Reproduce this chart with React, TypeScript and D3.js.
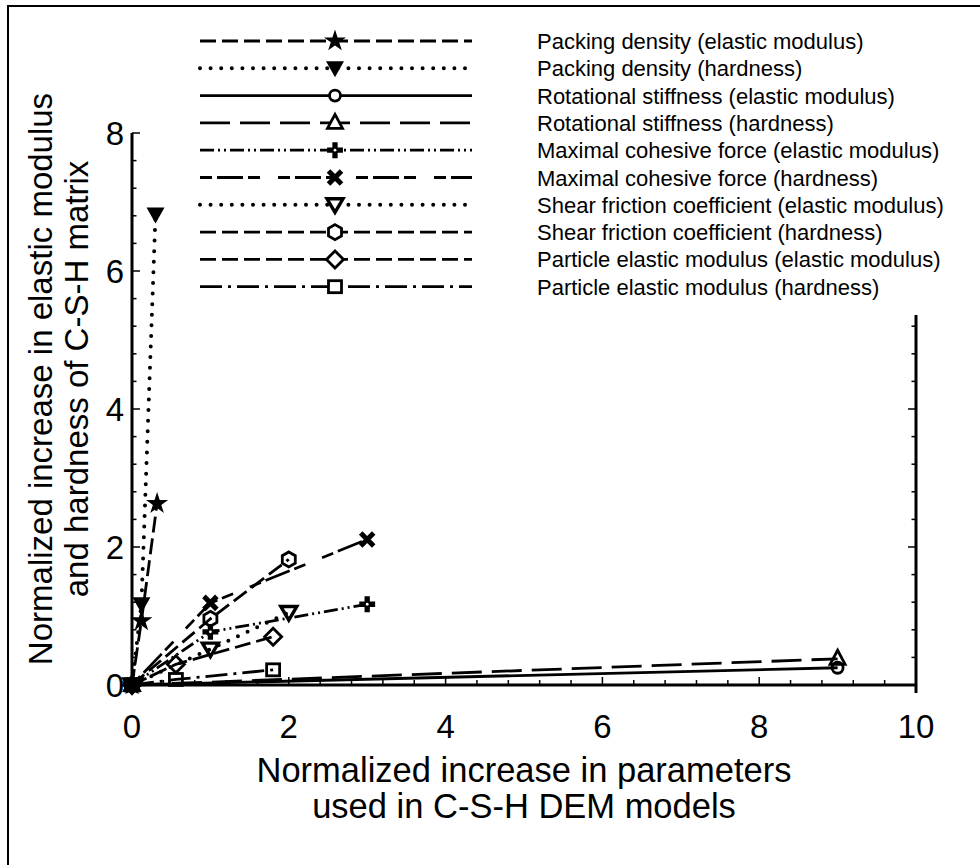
import React from "react";
import * as d3 from "d3";

// Normalized increase in DEM parameter (x) vs. normalized increase in property (y)
const packingEx = [0, 0.12, 0.32];
const packingEy = [0, 0.93, 2.63];
const packingHx = [0, 0.12, 0.3];
const packingHy = [0, 1.17, 6.82];
const rotEx = [0, 9];
const rotEy = [0, 0.25];
const rotHx = [0, 9];
const rotHy = [0, 0.38];
const cohEx = [0, 1, 3];
const cohEy = [0, 0.77, 1.17];
const cohHx = [0, 1, 3];
const cohHy = [0, 1.19, 2.11];
const fricEx = [0, 1, 2];
const fricEy = [0, 0.52, 1.05];
const fricHx = [0, 1, 2];
const fricHy = [0, 0.96, 1.82];
const partEx = [0, 0.56, 1.8];
const partEy = [0, 0.3, 0.7];
const partHx = [0, 0.56, 1.8];
const partHy = [0, 0.08, 0.22];

const seriesNames = [
  "Packing density (elastic modulus)",
  "Packing density (hardness)",
  "Rotational stiffness (elastic modulus)",
  "Rotational stiffness (hardness)",
  "Maximal cohesive force (elastic modulus)",
  "Maximal cohesive force (hardness)",
  "Shear friction coefficient (elastic modulus)",
  "Shear friction coefficient (hardness)",
  "Particle elastic modulus (elastic modulus)",
  "Particle elastic modulus (hardness)",
];

const xTickLabels = [0, 2, 4, 6, 8, 10];
const yTickLabels = [0, 2, 4, 6, 8];

type Marker =
  | "star" | "triDownFilled" | "circle" | "triUp" | "plus"
  | "xcross" | "triDownOpen" | "hexagon" | "diamond" | "square";

const styles: { dash: string; dotted?: boolean; marker: Marker }[] = [
  { dash: "16 6", marker: "star" },
  { dash: "0 10.6", dotted: true, marker: "triDownFilled" },
  { dash: "", marker: "circle" },
  { dash: "30 10", marker: "triUp" },
  { dash: "14 4 2 4 2 4", marker: "plus" },
  { dash: "12 5 26 5 12 18", marker: "xcross" },
  { dash: "0 10.6", dotted: true, marker: "triDownOpen" },
  { dash: "16 6", marker: "hexagon" },
  { dash: "16 6", marker: "diamond" },
  { dash: "22 6 3 6", marker: "square" },
];

const seriesX = [packingEx, packingHx, rotEx, rotHx, cohEx, cohHx, fricEx, fricHx, partEx, partHx];
const seriesY = [packingEy, packingHy, rotEy, rotHy, cohEy, cohHy, fricEy, fricHy, partEy, partHy];

const FONT = "'Liberation Sans', Arial, Helvetica, sans-serif";

function MarkerShape({ type, x, y, fill }: { type: Marker; x: number; y: number; fill: string }) {
  const t = `translate(${x},${y})`;
  const sw = 2.8;
  switch (type) {
    case "star":
      return <path transform={t} d={d3.symbol(d3.symbolStar, 150)()!} fill="#000" />;
    case "triDownFilled":
      return <path transform={t} d="M0,9 L-9,-7 L9,-7 Z" fill="#000" />;
    case "circle":
      return <circle cx={x} cy={y} r={5.5} fill={fill} stroke="#000" strokeWidth={sw} />;
    case "triUp":
      return <path transform={t} d="M0,-8.5 L7.5,5.5 L-7.5,5.5 Z" fill={fill} stroke="#000" strokeWidth={sw} />;
    case "plus":
      return (
        <g transform={t}>
          <path d={d3.symbol(d3.symbolCross, 140)()!} fill="#000" />
          <circle r={1.4} fill="#fff" />
        </g>
      );
    case "xcross":
      return <path transform={t} d="M-6.5,-6.5 L6.5,6.5 M-6.5,6.5 L6.5,-6.5" stroke="#000" strokeWidth={5} />;
    case "triDownOpen":
      return <path transform={t} d="M0,7.5 L-8,-6 L8,-6 Z" fill={fill} stroke="#000" strokeWidth={3.4} />;
    case "hexagon": {
      const pts = d3.range(6).map((i) => {
        const a = (Math.PI / 3) * i - Math.PI / 2;
        return [7.5 * Math.cos(a), 7.5 * Math.sin(a)];
      });
      return <path transform={t} d={"M" + pts.map((p) => p.join(",")).join("L") + "Z"} fill={fill} stroke="#000" strokeWidth={sw} />;
    }
    case "diamond":
      return <path transform={t} d="M0,-8.5 L8.5,0 L0,8.5 L-8.5,0 Z" fill={fill} stroke="#000" strokeWidth={sw} />;
    case "square":
      return <rect x={x - 6.5} y={y - 6} width={13} height={12} fill={fill} stroke="#000" strokeWidth={sw} />;
  }
  return null;
}

export default function App() {
  const width = 980;
  const height = 865;
  const x = d3.scaleLinear().domain([0, 10]).range([132, 916]);
  const y = d3.scaleLinear().domain([0, 8]).range([685, 133]);

  const minorX = d3.range(0, 10.001, 0.4);
  const minorY = d3.range(0, 8.001, 0.4);
  const isMajor = (v: number) => Math.abs(v / 2 - Math.round(v / 2)) < 1e-6;

  const line = d3
    .line<[number, number]>()
    .x((d) => x(d[0]))
    .y((d) => y(d[1]));

  // legend layout
  const legLeft = 200;
  const legRight = 472;
  const legMarkX = 335;
  const legTextX = 537;
  const legTop = 41;
  const legStep = 27.3;

  return (
    <svg
      width={width}
      height={height}
      style={{ position: "absolute", left: 0, top: 0, background: "#fff" }}
      fontFamily={FONT}
    >
      <rect x={0} y={0} width={width} height={height} fill="#fff" />
      {/* outer frame */}
      <path d={`M8,${height} L8,6 L${width},6`} fill="none" stroke="#000" strokeWidth={2} />

      {/* series lines */}
      {seriesX.map((xs, i) => {
        const s = styles[i];
        const pts = xs.map((v, j) => [v, seriesY[i][j]] as [number, number]);
        return (
          <path
            key={"l" + i}
            d={line(pts)!}
            fill="none"
            stroke="#000"
            strokeWidth={s.dotted ? 4 : 2.8}
            strokeDasharray={s.dash || undefined}
            strokeLinecap={s.dotted ? "round" : "butt"}
          />
        );
      })}
      {/* series markers */}
      {seriesX.map((xs, i) => (
        <g key={"m" + i}>
          {xs.map((v, j) => (
            <MarkerShape key={j} type={styles[i].marker} x={x(v)} y={y(seriesY[i][j])} fill="none" />
          ))}
        </g>
      ))}

      {/* axes */}
      <g stroke="#000" strokeWidth={3} fill="none">
        <line x1={x(0)} x2={x(10)} y1={y(0)} y2={y(0)} />
        <line x1={x(0)} x2={x(0)} y1={y(0) + 1.5} y2={y(8)} />
        <line x1={x(10)} x2={x(10)} y1={y(0) + 8} y2={y(8)} />
      </g>
      <g stroke="#000" strokeWidth={1.5}>
        {minorX.map((v) => (
          <line key={"xt" + v} x1={x(v)} x2={x(v)} y1={y(0)} y2={y(0) - (isMajor(v) ? 8 : 5)} />
        ))}
        {minorY.map((v) => (
          <line key={"yt" + v} x1={x(0)} x2={x(0) + (isMajor(v) ? 8 : 4.5)} y1={y(v)} y2={y(v)} />
        ))}
        {minorY.map((v) => (
          <line key={"rt" + v} x1={x(10)} x2={x(10) - (isMajor(v) ? 8 : 4.5)} y1={y(v)} y2={y(v)} />
        ))}
      </g>

      {/* tick labels */}
      <g fontSize={33} fill="#000">
        {xTickLabels.map((v) => (
          <text key={"xl" + v} x={x(v)} y={738} textAnchor="middle">
            {v}
          </text>
        ))}
        {yTickLabels.map((v) => (
          <text key={"yl" + v} x={124} y={y(v) + 12} textAnchor="end">
            {v}
          </text>
        ))}
      </g>

      {/* axis titles */}
      <g fontSize={33} fill="#000" textAnchor="middle">
        <text x={524} y={782} fontSize={34.5}>Normalized increase in parameters</text>
        <text x={524} y={818} fontSize={34.5}>used in C-S-H DEM models</text>
        <text transform="translate(52,379) rotate(-90)">Normalized increase in elastic modulus</text>
        <text transform="translate(88,379) rotate(-90)">and hardness of C-S-H matrix</text>
      </g>

      {/* legend */}
      <rect x={190} y={20} width={770} height={295} fill="#fff" />
      {seriesNames.map((name, i) => {
        const s = styles[i];
        const ly = legTop + i * legStep;
        return (
          <g key={"lg" + i}>
            <line
              x1={legLeft}
              x2={legRight}
              y1={ly}
              y2={ly}
              stroke="#000"
              strokeWidth={s.dotted ? 4 : 2.8}
              strokeDasharray={s.dash || undefined}
              strokeLinecap={s.dotted ? "round" : "butt"}
            />
            <MarkerShape type={s.marker} x={legMarkX} y={ly} fill="#fff" />
            <text x={legTextX} y={ly + 8} fontSize={22} fill="#000">
              {name}
            </text>
          </g>
        );
      })}
    </svg>
  );
}
